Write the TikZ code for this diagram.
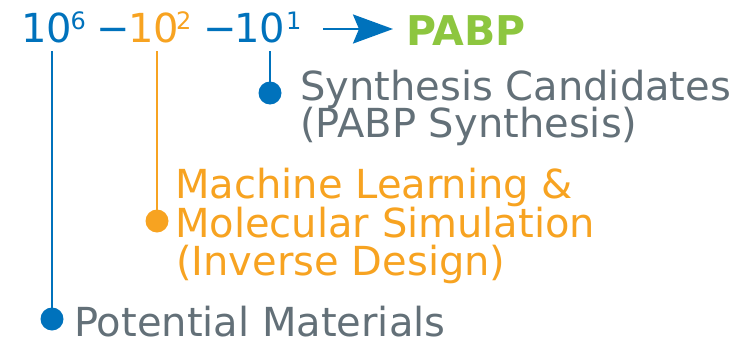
\documentclass[tikz,border=0pt]{standalone}
\usepackage{fontspec}
\setmainfont{DejaVu Sans}
\usetikzlibrary{arrows.meta}
\definecolor{cblue}{RGB}{0,114,188}
\definecolor{corange}{RGB}{247,163,33}
\definecolor{cgreen}{RGB}{141,198,63}
\definecolor{cgray}{RGB}{99,112,120}
\tikzset{
  big/.style={inner sep=0pt, anchor=base west, font=\fontsize{40}{38}\selectfont},
  sup/.style={inner sep=0pt, anchor=base west, font=\fontsize{24}{26}\selectfont},
  dotmark/.style={circle, inner sep=0pt, minimum size=23pt, draw=none},
  stem/.style={line width=2.4pt},
}
\begin{document}
\begin{tikzpicture}[x=1pt,y=-1pt]
\useasboundingbox (0,0) rectangle (748,343);
% top row
\node[big, text=cblue] (e6) at (21,42) {10};
\node[sup, text=cblue] (s6) at (70.5,29) {6};
\node[big, text=cblue] (m1) at (96,42) {−};
\node[big, text=corange] (e2) at (128,42) {10};
\node[sup, text=corange] (s2) at (176,29) {2};
\node[big, text=cblue] (m2) at (203,42) {−};
\node[big, text=cblue] (e1) at (234,42) {10};
\node[sup, text=cblue] (s1) at (286,29) {1};
\coordinate (aS) at (323,29);
\coordinate (aE) at (393,29);
\draw[cblue, line width=2.5pt, -{Stealth[length=40pt,width=29pt,inset=6pt]}] (aS) -- (aE);
\node[big, text=cgreen, font=\fontsize{41}{38}\selectfont\bfseries] (pabp) at (406,45) {PABP};
% stems and dots
\coordinate (tA) at (52,51);
\coordinate (tB) at (157,51);
\coordinate (tC) at (270,51);
\node[dotmark, fill=cblue] (dA) at (52,319) {};
\node[dotmark, fill=corange] (dB) at (157,221) {};
\node[dotmark, fill=cblue] (dC) at (270,93) {};
\draw[stem, cblue] (tA) -- (dA.center);
\draw[stem, corange] (tB) -- (dB.center);
\draw[stem, cblue] (tC) -- (dC.center);
% labels
\node[big, text=cgray] (c1) at (300,100) {Synthesis Candidates};
\node[big, text=cgray] (c2) at (300,137) {(PABP Synthesis)};
\node[big, text=corange] (b1) at (175,198) {Machine Learning \&};
\node[big, text=corange] (b2) at (175,237) {Molecular Simulation};
\node[big, text=corange] (b3) at (176,275) {(Inverse Design)};
\node[big, text=cgray] (a1) at (74,336) {Potential Materials};
\end{tikzpicture}
\end{document}
